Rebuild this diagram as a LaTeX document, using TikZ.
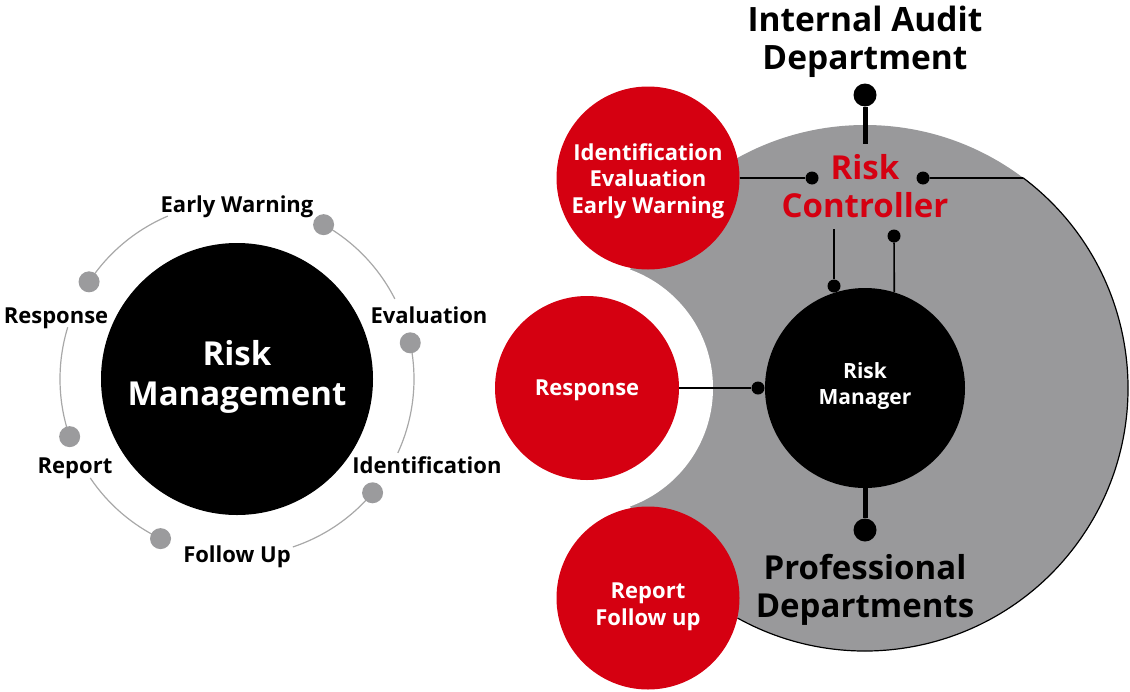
\documentclass[tikz,border=0pt]{standalone}
\usepackage{fontspec}
\setmainfont{Open Sans}
\usetikzlibrary{calc}
\definecolor{rmred}{HTML}{D50011}
\definecolor{rmgray}{HTML}{99999B}
\definecolor{dotgray}{HTML}{9B9B9D}
\definecolor{ringgray}{HTML}{A8A8A8}
\tikzset{
  blackcirc/.style={circle,fill=black,inner sep=0pt},
  redcirc/.style={circle,fill=rmred,inner sep=0pt,minimum size=183pt},
  wtxt/.style={text=white,align=center,inner sep=0pt,font=\bfseries\fontsize{22}{26.5}\selectfont},
  gdot/.style={circle,fill=dotgray,inner sep=0pt,minimum size=21pt},
  bdot/.style={circle,fill=black,inner sep=0pt,minimum size=13pt},
  bigdot/.style={circle,fill=black,inner sep=0pt,minimum size=23pt},
  ringlbl/.style={font=\bfseries\fontsize{22}{26}\selectfont,inner sep=0pt,anchor=base},
  ring/.style={draw=ringgray,line width=1.2pt},
  thin/.style={draw=black,line width=1.6pt},
  stem/.style={draw=black,line width=5pt},
  bigtxt/.style={font=\bfseries\fontsize{33}{38}\selectfont,align=center,inner sep=0pt}
}
\begin{document}
\begin{tikzpicture}[x=1pt,y=-1pt]
\useasboundingbox (0,0) rectangle (1130,691);
% ---------- right background ----------
\fill[rmgray] (865,388) circle (263);
\fill[white] (587,388) circle (126);
\draw[black,line width=1.2pt] (865,388) ++(-53:263) arc[start angle=-53,end angle=119,radius=263];
\coordinate (edge) at ($(865,388)+(-53:263)$);
% ---------- left ----------
\coordinate (lc) at (237,379);
\foreach \a/\b in {113/146.7,163/199,214/244.4,288.4/320,-24.7/11.8,26.9/60.7}{
  \draw[ring] ($(lc)+(-\a:177)$) arc[start angle=-\a,end angle=-\b,radius=177];
}
\node[blackcirc,minimum size=272pt] (rm) at (237,379) {};
\node[wtxt,font=\bfseries\fontsize{33}{40}\selectfont] (rmt) at (237,377) {Risk\\Management};
\node[gdot] (d1) at ($(lc)+(-60.7:177)$) {};
\node[gdot] (d2) at ($(lc)+(-11.8:177)$) {};
\node[gdot] (d3) at ($(lc)+(40:177)$) {};
\node[gdot] (d4) at ($(lc)+(115.6:177)$) {};
\node[gdot] (d5) at ($(lc)+(161:177)$) {};
\node[gdot] (d6) at ($(lc)+(-146.7:177)$) {};
\node[ringlbl] (l1) at (237,212) {Early Warning};
\node[ringlbl] (l2) at (429,323) {Evaluation};
\node[ringlbl] (l3) at (427,473) {Identification};
\node[ringlbl] (l4) at (237,562) {Follow Up};
\node[ringlbl] (l5) at (75,473) {Report};
\node[ringlbl] (l6) at (56,323) {Response};
% ---------- right ----------
\node[blackcirc,minimum size=200pt] (mgr) at (865,388) {};
\node[wtxt,font=\bfseries\fontsize{21}{26}\selectfont] (mgrt) at (865,386) {Risk\\Manager};
\node[redcirc] (rc1) at (648,178) {};
\node[wtxt] (rc1t) at (648,181) {Identification\\Evaluation\\Early Warning};
\node[redcirc,minimum size=184pt] (resp) at (587,388) {};
\node[wtxt] (respt) at (587,390) {Response};
\node[redcirc] (rc3) at (648,598) {};
\node[wtxt] (rc3t) at (648,607) {Report\\Follow up};
\node[bigtxt,font=\bfseries\fontsize{33.5}{38}\selectfont] (iad) at (865,42) {Internal Audit\\Department};
\node[bigdot] (iadot) at (865,95) {};
\coordinate (stemend) at (865,144);
\draw[stem] (iadot) -- (stemend);
\node[bigtxt,text=rmred] (rct) at (865,186) {Risk\\Controller};
\node[bdot] (rcl) at (812,178) {};
\node[bdot] (rcr) at (923,178) {};
\draw[thin] (rc1.east) -- (rcl);
\draw[thin] (rcr) -- (edge);
\coordinate (vlt) at (834,229);
\node[bdot] (vld) at (834,286) {};
\draw[thin] (vlt) -- (vld);
\node[bdot] (vrd) at (894,236) {};
\draw[thin] (vrd) -- (mgr.73);
\node[bdot] (rmd) at (758,388) {};
\draw[thin] (resp.east) -- (rmd);
\node[bigdot] (pdot) at (865,530) {};
\draw[stem] (mgr.south) -- (pdot);
\node[bigtxt,font=\bfseries\fontsize{33}{38}\selectfont] (pdt) at (865,590) {Professional\\Departments};
\end{tikzpicture}
\end{document}
